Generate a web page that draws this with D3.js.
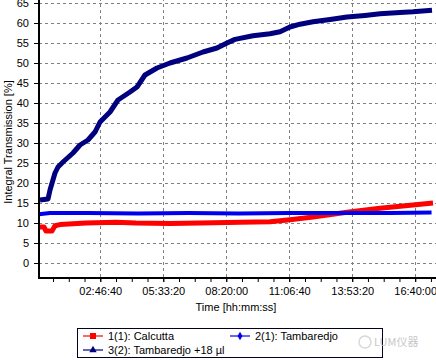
<!DOCTYPE html>
<html>
<head>
<meta charset="utf-8">
<script src="https://cdn.jsdelivr.net/npm/d3@7"></script>
<style>
    body { margin: 0; background: #fff; }
    #chart { width: 436px; height: 360px; }
    text { font-family: Arial, "Liberation Sans", sans-serif; }
</style>
</head>
<body>
<div id="chart"></div>
<script>

// time in seconds, transmission in %
let times1 = [270, 1060, 1380, 2330, 2810, 3600, 7730, 12500, 15670, 21070, 25830, 32180, 36950, 40120, 43780, 49170, 54410, 59650, 62830];
let calcutta = [9, 9, 8, 8, 9.3, 9.6, 10, 10.2, 10, 9.9, 10, 10.2, 10.3, 10.8, 11.5, 12.7, 13.7, 14.5, 15];

let times2 = [270, 2000, 8000, 16000, 24000, 32000, 40000, 48000, 56000, 62600];
let tambaredjo = [12.2, 12.5, 12.5, 12.4, 12.5, 12.4, 12.5, 12.5, 12.5, 12.6];

let times3 = [430, 1700, 2020, 2810, 3290, 4080, 5670, 6780, 8050, 9160, 9960, 11540, 12810, 14720, 15830, 17100, 19010, 21070, 23770, 26310, 28530, 30120, 31390, 34250, 36950, 38540, 40120, 41710, 43780, 46480, 49170, 52030, 54410, 57590, 59650, 62670];
let tambaredjo18 = [15.75, 16, 18.25, 22.5, 24, 25.25, 27.5, 29.5, 30.75, 32.75, 35.25, 37.75, 40.75, 42.75, 44, 47, 48.75, 50, 51.25, 52.75, 53.75, 55, 55.9, 56.8, 57.3, 57.8, 59, 59.7, 60.3, 60.9, 61.5, 61.9, 62.3, 62.6, 62.8, 63.2];

let seriesNames = ["1(1): Calcutta", "2(1): Tambaredjo", "3(2): Tambaredjo +18 \u00b5l"];
let yTicks = [0, 5, 10, 15, 20, 25, 30, 35, 40, 45, 50, 55, 60, 65];
let xTicks = [10000, 20000, 30000, 40000, 50000, 60000];

class transmissionChart {

    constructor(parentElement) {
        this.parentElement = parentElement;
        this.initVis();
    }

    initVis() {
        let vis = this;

        vis.left = 39;
        vis.right = 440;
        vis.top = -2;
        vis.bottom = 278;

        vis.svg = d3.select("#" + vis.parentElement).append("svg")
            .attr("width", 436)
            .attr("height", 360);

        // scales
        vis.x = d3.scaleLinear()
            .domain([270, 63940])
            .range([vis.left, vis.right]);

        vis.y = d3.scaleLinear()
            .domain([-3.75, 66.25])
            .range([vis.bottom, vis.top]);

        vis.fmt = function(s) {
            let h = Math.floor(s / 3600), m = Math.floor((s % 3600) / 60), sec = s % 60;
            return [h, m, sec].map(v => String(v).padStart(2, "0")).join(":");
        };

        // grid
        vis.svg.append("g")
            .selectAll("line.hgrid")
            .data(yTicks)
            .enter().append("line")
            .attr("x1", vis.left)
            .attr("x2", vis.right)
            .attr("y1", d => vis.y(d) + 0.5)
            .attr("y2", d => vis.y(d) + 0.5)
            .attr("stroke", "#808080")
            .attr("stroke-dasharray", "3,3");

        vis.svg.append("g")
            .selectAll("line.vgrid")
            .data(xTicks)
            .enter().append("line")
            .attr("x1", d => Math.round(vis.x(d)) + 0.5)
            .attr("x2", d => Math.round(vis.x(d)) + 0.5)
            .attr("y1", vis.top)
            .attr("y2", vis.bottom)
            .attr("stroke", "#808080")
            .attr("stroke-dasharray", "3,3");

        // series
        vis.line = d3.line()
            .x(d => vis.x(d[0]))
            .y(d => vis.y(d[1]));

        vis.series = [
            {data: d3.zip(times1, calcutta), color: "#ff0000", width: 5},
            {data: d3.zip(times2, tambaredjo), color: "#0000ee", width: 4},
            {data: d3.zip(times3, tambaredjo18), color: "#00007f", width: 5}
        ];

        vis.svg.selectAll(".series")
            .data(vis.series)
            .enter().append("path")
            .attr("class", "series")
            .attr("d", d => vis.line(d.data))
            .attr("fill", "none")
            .attr("stroke", d => d.color)
            .attr("stroke-width", d => d.width)
            .attr("stroke-linejoin", "round");

        // y axis
        vis.yAxis = d3.axisLeft(vis.y)
            .tickValues(yTicks)
            .tickSize(5)
            .tickPadding(5);

        vis.svg.append("g")
            .attr("class", "y-axis")
            .attr("transform", `translate(${vis.left}, 0)`)
            .call(vis.yAxis)
            .call(g => g.select(".domain").remove())
            .call(g => g.selectAll("text").attr("font-size", 11).attr("fill", "#000"));

        // x axis, minor ticks first
        vis.svg.append("g")
            .attr("transform", `translate(0, ${vis.bottom})`)
            .call(d3.axisBottom(vis.x).tickValues(d3.range(2500, 63000, 2500)).tickSize(4).tickFormat(""))
            .call(g => g.select(".domain").remove());

        vis.xAxis = d3.axisBottom(vis.x)
            .tickValues(xTicks)
            .tickSize(4)
            .tickPadding(5)
            .tickFormat(vis.fmt);

        vis.svg.append("g")
            .attr("class", "x-axis")
            .attr("transform", `translate(0, ${vis.bottom})`)
            .call(vis.xAxis)
            .call(g => g.select(".domain").remove())
            .call(g => g.selectAll("text").attr("font-size", 11).attr("fill", "#000"));

        // axis lines
        vis.svg.append("line")
            .attr("x1", vis.left).attr("x2", vis.left)
            .attr("y1", vis.top).attr("y2", vis.bottom + 1)
            .attr("stroke", "#000").attr("stroke-width", 2);

        vis.svg.append("line")
            .attr("x1", vis.left - 1).attr("x2", vis.right)
            .attr("y1", vis.bottom).attr("y2", vis.bottom)
            .attr("stroke", "#000").attr("stroke-width", 2);

        // axis titles
        vis.svg.append("text")
            .text("Time [hh:mm:ss]")
            .attr("x", 236)
            .attr("y", 311)
            .attr("text-anchor", "middle")
            .attr("font-size", 11);

        vis.svg.append("text")
            .text("Integral Transmission [%]")
            .attr("transform", "translate(12, 142) rotate(-90)")
            .attr("text-anchor", "middle")
            .attr("font-size", 11);

        // legend
        let lg = vis.svg.append("g");

        lg.append("rect")
            .attr("x", 77.5).attr("y", 328.5)
            .attr("width", 305).attr("height", 29)
            .attr("fill", "#fff")
            .attr("stroke", "#000020");

        let items = [
            {name: seriesNames[0], color: "#ff0000", x: 83, y: 336, sym: d3.symbolSquare, size: 36},
            {name: seriesNames[1], color: "#0000ee", x: 230, y: 336, sym: d3.symbolDiamond, size: 22},
            {name: seriesNames[2], color: "#00007f", x: 83, y: 350, sym: d3.symbolTriangle, size: 24}
        ];

        items.forEach(it => {
            lg.append("line")
                .attr("x1", it.x).attr("x2", it.x + 20)
                .attr("y1", it.y).attr("y2", it.y)
                .attr("stroke", it.color).attr("stroke-width", 1.2);
            lg.append("path")
                .attr("d", d3.symbol().type(it.sym).size(it.size)())
                .attr("transform", `translate(${it.x + 10}, ${it.y})`)
                .attr("fill", it.color);
            lg.append("text")
                .text(it.name)
                .attr("x", it.x + 25)
                .attr("y", it.y + 4)
                .attr("font-size", 11);
        });

        // watermark
        vis.svg.append("circle")
            .attr("cx", 365).attr("cy", 342).attr("r", 6)
            .attr("fill", "none").attr("stroke", "#d8d8d8").attr("stroke-width", 1.5);

        vis.svg.append("text")
            .text("LUM仪器")
            .attr("x", 374)
            .attr("y", 346)
            .attr("font-size", 11)
            .attr("fill", "#c8c8c8")
            .style("font-family", "'Noto Sans CJK SC', sans-serif");
    }
}

new transmissionChart("chart");

</script>
</body>
</html>
